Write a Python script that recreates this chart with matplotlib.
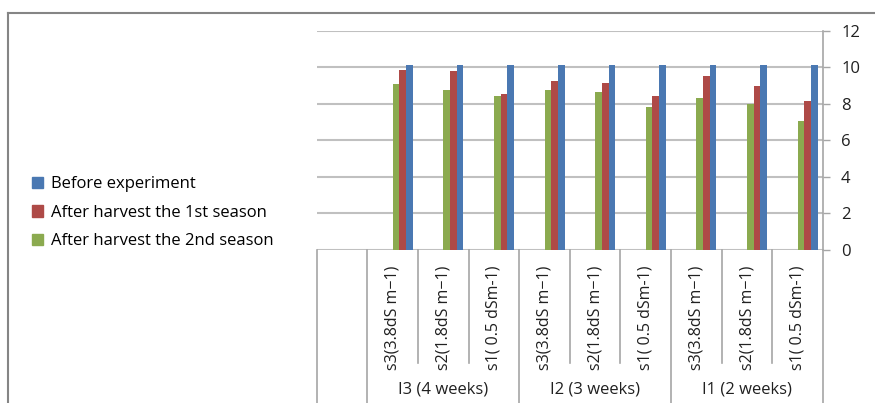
import numpy as np
import matplotlib
matplotlib.use("Agg")
import matplotlib.pyplot as plt
from matplotlib.lines import Line2D
from matplotlib.patches import Patch

plt.rcParams['font.family'] = ['Open Sans', 'DejaVu Sans']

# categories (first column of the chart is an empty category)
sub_labels = ["", "s3(3.8dS m\u22121)", "s2(1.8dS m\u22121)", "s1( 0.5 dSm-1)",
              "s3(3.8dS m\u22121)", "s2(1.8dS m\u22121)", "s1( 0.5 dSm-1)",
              "s3(3.8dS m\u22121)", "s2(1.8dS m\u22121)", "s1( 0.5 dSm-1)"]
group_labels = ["I3 (4 weeks)", "I2 (3 weeks)", "I1 (2 weeks)"]

# series values, None = empty category
before_exp = [None, 10.1, 10.1, 10.1, 10.1, 10.1, 10.1, 10.1, 10.1, 10.1]
after_1st  = [None, 9.85, 9.78, 8.56, 9.23, 9.14, 8.42, 9.51, 9.00, 8.18]
after_2nd  = [None, 9.11, 8.76, 8.42, 8.76, 8.63, 7.83, 8.34, 7.98, 7.05]

c_blue, c_red, c_green = "#4A78B2", "#AE4A47", "#8BAA4F"
grid_c = "#C0C0C0"
line_c = "#A6A6A6"
txt_c = "#202020"

W, H = 875, 403
fig = plt.figure(figsize=(W/100, H/100), dpi=100)

x0, x1, y_top, y_zero = 316.7, 823.0, 30.7, 250.0
ax = fig.add_axes([x0/W, 1-y_zero/H, (x1-x0)/W, (y_zero-y_top)/H])

n = len(sub_labels)
bw = 0.132
for i in range(n):
    if before_exp[i] is None:
        continue
    base = i + 0.5
    ax.bar(base + 0.5*bw, after_2nd[i], bw, color=c_green, zorder=3)
    ax.bar(base + 1.5*bw, after_1st[i], bw, color=c_red, zorder=3)
    ax.bar(base + 2.5*bw, before_exp[i], bw, color=c_blue, zorder=3)

ax.set_xlim(0, n)
ax.set_ylim(0, 12)
ax.set_yticks(np.arange(0, 13, 2))
ax.yaxis.tick_right()
ax.tick_params(axis='y', direction='out', length=5, width=1, color=line_c,
               labelsize=12, pad=8, labelcolor=txt_c)
ax.set_xticks([])
ax.grid(axis='y', color=grid_c, lw=1.5, zorder=0)
for s in ["top", "left", "bottom"]:
    ax.spines[s].set_visible(False)
ax.spines["right"].set_color(line_c)
ax.spines["right"].set_linewidth(1.2)

# category table below the plot, in pixel units (y grows downwards)
cax = fig.add_axes([x0/W, 0, (x1-x0)/W, (H-y_zero)/H])
cax.set_xlim(0, n)
cax.set_ylim(H, y_zero)
cax.axis("off")
y_sub = 363
for i in range(n + 1):
    full = i == 0 or (i - 1) % 3 == 0
    cax.plot([i, i], [y_zero, H if full else y_sub], color=line_c, lw=1.2,
             clip_on=False)
for i, lab in enumerate(sub_labels):
    if lab:
        cax.text(i + 0.5, 266, lab, rotation=90, ha="center", va="top",
                 fontsize=11.5, color=txt_c)
for g, lab in enumerate(group_labels):
    cax.text(1 + 3*g + 1.5, 389, lab, ha="center", va="center",
             fontsize=12, color=txt_c)

# legend on the left
handles = [Patch(color=c_blue, label="Before experiment"),
           Patch(color=c_red, label="After harvest the 1st season"),
           Patch(color=c_green, label="After harvest the 2nd season")]
fig.legend(handles=handles, loc="upper left", bbox_to_anchor=(24/W, 1-168/H),
           frameon=False, fontsize=12, handlelength=0.65, handleheight=0.65,
           handletextpad=0.45, labelspacing=0.75, borderpad=0)

# outer chart border (top and left edges)
fig.add_artist(Line2D([8/W, 1], [1-12.5/H, 1-12.5/H], color="#858585", lw=1.5))
fig.add_artist(Line2D([8/W, 8/W], [0, 1-12.5/H], color="#858585", lw=1.5))

fig.savefig("out.png", dpi=100)
